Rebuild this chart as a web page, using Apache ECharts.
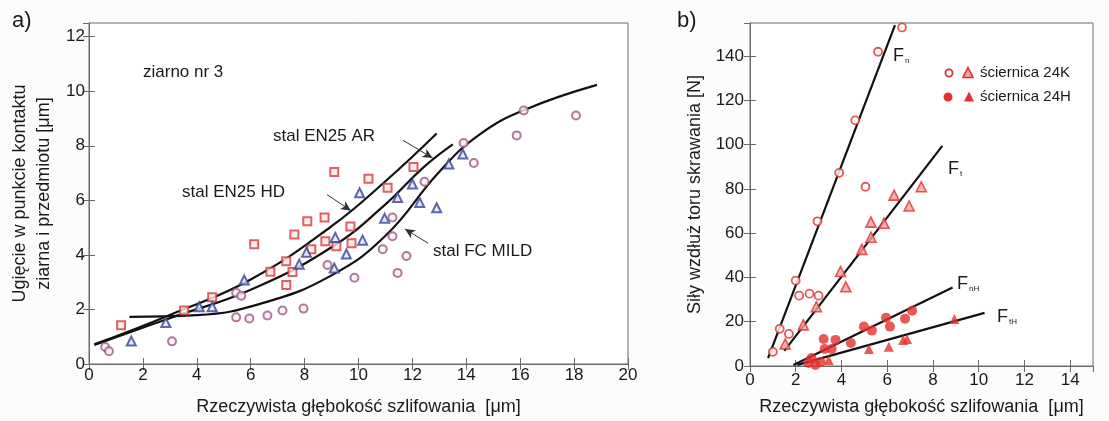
<!DOCTYPE html>
<html><head><meta charset="utf-8">
<script src="https://cdn.jsdelivr.net/npm/echarts@6/dist/echarts.min.js"></script>
<style>html,body{margin:0;padding:0;background:#fbfcfd}#c{width:1109px;height:421px}</style>
</head><body><div id="c"></div>
<script>
// ---- panel a) data ----
const en25hdSquares = [[1.19,1.42],[3.53,1.96],[4.57,2.45],[6.13,4.39],[6.73,3.38],[7.32,2.9],[7.32,3.77],[7.55,3.37],[7.62,4.75],[8.1,5.23],[8.25,4.21],[8.74,5.37],[8.77,4.5],[9.18,4.32],[9.7,5.04],[9.74,4.43],[9.1,7.04],[10.37,6.79],[11.08,6.46],[12.04,7.22]];
const en25arTriangles = [[1.57,0.84],[2.85,1.52],[4.09,2.1],[4.57,2.1],[5.76,3.08],[7.8,3.66],[8.07,4.1],[9.14,4.64],[9.1,3.52],[9.55,4.03],[10.15,4.54],[10.04,6.28],[10.97,5.34],[11.45,6.1],[12.0,6.6],[12.27,5.92],[12.9,5.73],[13.35,7.33],[13.87,7.7]];
const fcMildCircles = [[0.6,0.62],[0.74,0.47],[3.08,0.83],[5.46,1.71],[5.95,1.67],[6.62,1.78],[7.18,1.96],[7.96,2.03],[5.46,2.61],[5.65,2.5],[8.85,3.63],[9.85,3.16],[10.9,4.21],[11.26,4.68],[11.26,5.37],[11.78,3.96],[11.45,3.34],[12.45,6.68],[13.9,8.1],[14.28,7.37],[15.87,8.38],[16.13,9.29],[18.07,9.11]];
const upperCurve = [[0.2,0.72],[3,1.8],[6,3.1],[9,5.05],[11,6.7],[12.9,8.45]];
const middleCurve = [[0.2,0.7],[3,1.68],[6,2.72],[9,4.28],[11,5.85],[12.4,7.2],[13.5,8.05]];
const lowerCurve = [[1.5,1.73],[4,1.79],[6.5,2.25],[9,3.25],[11,4.7],[13,7.05],[14.5,8.42],[16.2,9.33],[18.85,10.23]];
const arrowAR = [[11.65,8.2],[12.75,7.55]];
const arrowHD = [[8.83,6.21],[9.72,5.62]];
const arrowFC = [[12.58,4.43],[11.72,4.95]];
const xTicksA = {min:0,max:20,interval:2};
const yTicksA = {min:0,max:12.5,interval:2};
// ---- panel b) data ----
const fn24K = [[1.0,6.4],[1.3,16.8],[1.7,14.5],[2.0,38.6],[2.15,31.8],[2.6,32.7],[3.0,31.8],[2.95,65.4],[3.9,87.3],[4.6,111],[5.05,81],[5.6,142],[6.65,153]];
const ft24K = [[1.54,10],[2.33,18.6],[2.9,26.8],[3.96,42.7],[4.19,35.8],[4.89,52.7],[5.29,58.2],[5.29,65],[5.86,64.5],[6.3,77.2],[6.96,72.3],[7.49,81]];
const fn24H = [[2.56,1.4],[2.69,3.6],[2.86,0.5],[3.08,1.8],[3.22,12.2],[3.26,7.7],[3.57,7.7],[3.74,11.8],[4.41,10.4],[4.98,17.8],[5.33,16],[5.95,21.8],[6.12,17.8],[6.78,21.4],[7.09,25]];
const ft24H = [[3.44,2.7],[5.2,7.7],[6.07,8.7],[6.7,11.8],[6.87,12.2],[8.94,21.2]];
const fnLine = [[0.79,3.6],[6.34,154]];
const ftLine = [[1.5,6.8],[8.41,99.5]];
const fnHLine = [[1.9,0.5],[8.86,35.5]];
const ftHLine = [[2.07,0.5],[10.26,24]];
const xTicksB = {min:0,max:15,interval:2};
const yTicksB = {min:0,max:155,interval:20};

const FONT = '"Liberation Sans", Arial, sans-serif';
const TXT = '#1a1a1a';
const AX = '#6a6a6a';

function mainAxis(extra, grid, t, show){
  return Object.assign({
    type:'value', gridIndex:grid, min:t.min, max:t.max, interval:t.interval,
    axisLine:{show:true, lineStyle:{color:AX, width:1}},
    axisTick:{show:true, inside:true, length:6, lineStyle:{color:AX}},
    splitLine:{show:false},
    axisLabel:{show:show, fontSize:17, color:TXT, fontFamily:FONT, showMaxLabel:false},
    nameTextStyle:{fontSize:18, color:TXT, fontFamily:FONT}
  }, extra);
}

const chart = echarts.init(document.getElementById('c'));
const arrowLine = (pts) => ({
  silent:true, symbol:['none','arrow'], symbolSize:[7,10], animation:false,
  lineStyle:{color:'#333', width:1, type:'solid'}, label:{show:false},
  data:[[{coord:pts[0]},{coord:pts[1]}]]
});

const lineSeries = (data, xi, yi, smooth) => ({
  type:'line', data, xAxisIndex:xi, yAxisIndex:yi, smooth: smooth ? 0.45 : false,
  showSymbol:false, symbol:'none', lineStyle:{color:'#111', width:2.2}, z:3, silent:true
});

const option = {
  animation:false,
  backgroundColor:'#fbfcfd',
  grid:[
    {left:89, right:481, top:23, bottom:55, show:true, backgroundColor:'#ffffff', borderColor:AX, borderWidth:1},
    {left:750, right:16, top:23, bottom:55, show:true, backgroundColor:'#ffffff', borderColor:AX, borderWidth:1}
  ],
  xAxis:[
    mainAxis({position:'bottom', name:'Rzeczywista głębokość szlifowania  [μm]', nameLocation:'middle', nameGap:34, axisLabel:{fontSize:17,color:TXT,fontFamily:FONT,margin:3,showMaxLabel:true}}, 0, xTicksA, true),
    mainAxis({position:'top'}, 0, xTicksA, false),
    mainAxis({position:'bottom', name:'Rzeczywista głębokość szlifowania  [μm]', nameLocation:'middle', nameGap:32, axisLabel:{fontSize:17,color:TXT,fontFamily:FONT,margin:6,showMaxLabel:false}}, 1, xTicksB, true),
    mainAxis({position:'top'}, 1, xTicksB, false)
  ],
  yAxis:[
    mainAxis({position:'left', name:'Ugięcie w punkcie kontaktu\nziarna i przedmiotu [μm]', nameLocation:'middle', nameGap:33, nameRotate:90,
      nameTextStyle:{fontSize:18,color:TXT,fontFamily:FONT,lineHeight:24}, axisLabel:{fontSize:17,color:TXT,fontFamily:FONT,margin:4,showMaxLabel:false}}, 0, yTicksA, true),
    mainAxis({position:'right'}, 0, yTicksA, false),
    mainAxis({position:'left', name:'Siły wzdłuż toru skrawania [N]', nameLocation:'middle', nameGap:46, nameRotate:90,
      axisLabel:{fontSize:17,color:TXT,fontFamily:FONT,margin:6,showMaxLabel:false}}, 1, yTicksB, true),
    mainAxis({position:'right'}, 1, yTicksB, false)
  ],
  series:[
    Object.assign(lineSeries(upperCurve,0,0,true), {markLine: arrowLine(arrowHD)}),
    Object.assign(lineSeries(middleCurve,0,0,true), {markLine: arrowLine(arrowAR)}),
    Object.assign(lineSeries(lowerCurve,0,0,true), {markLine: arrowLine(arrowFC)}),
    {type:'scatter', name:'stal EN25 HD', data:en25hdSquares, xAxisIndex:0, yAxisIndex:0, symbol:'rect', symbolSize:8,
      itemStyle:{color:'#fdeeee', borderColor:'#d8393b', borderWidth:2}, z:4},
    {type:'scatter', name:'stal EN25 AR', data:en25arTriangles, xAxisIndex:0, yAxisIndex:0, symbol:'triangle', symbolSize:9,
      itemStyle:{color:'#e2e6f6', borderColor:'#33449a', borderWidth:2}, z:4},
    {type:'scatter', name:'stal FC MILD', data:fcMildCircles, xAxisIndex:0, yAxisIndex:0, symbol:'circle', symbolSize:8,
      itemStyle:{color:'#f8f0f6', borderColor:'#9a5a82', borderWidth:2}, z:4},
    lineSeries(fnLine,2,2,false),
    lineSeries(ftLine,2,2,false),
    lineSeries(fnHLine,2,2,false),
    lineSeries(ftHLine,2,2,false),
    {type:'scatter', name:'Fn 24K', data:fn24K, xAxisIndex:2, yAxisIndex:2, symbol:'circle', symbolSize:8,
      itemStyle:{color:'#ffffff', borderColor:'#e0302c', borderWidth:1.8}, z:4},
    {type:'scatter', name:'Ft 24K', data:ft24K, xAxisIndex:2, yAxisIndex:2, symbol:'triangle', symbolSize:10,
      itemStyle:{color:'#f6a3a0', borderColor:'#e0302c', borderWidth:1.6}, z:4},
    {type:'scatter', name:'Fn 24H', data:fn24H, xAxisIndex:2, yAxisIndex:2, symbol:'circle', symbolSize:10,
      itemStyle:{color:'#e4302c'}, z:4},
    {type:'scatter', name:'Ft 24H', data:ft24H, xAxisIndex:2, yAxisIndex:2, symbol:'triangle', symbolSize:10,
      itemStyle:{color:'#e4302c'}, z:4}
  ],
  graphic:[
    {type:'text', left:12, top:10, style:{text:'a)', fontSize:22, fill:TXT, fontFamily:FONT}},
    {type:'text', left:677, top:10, style:{text:'b)', fontSize:22, fill:TXT, fontFamily:FONT}},
    {type:'text', left:143, top:64, style:{text:'ziarno nr 3', fontSize:17, fill:TXT, fontFamily:FONT}},
    {type:'text', left:273, top:128, style:{text:'stal EN25 AR', fontSize:17, fill:TXT, fontFamily:FONT}},
    {type:'text', left:182, top:184, style:{text:'stal EN25 HD', fontSize:17, fill:TXT, fontFamily:FONT}},
    {type:'text', left:433, top:243, style:{text:'stal FC MILD', fontSize:17, fill:TXT, fontFamily:FONT}},
    {type:'text', x:893, y:47, style:{text:'{f|F}{s|n}', fill:TXT, fontFamily:FONT, rich:{f:{fontSize:18,fill:TXT,fontFamily:FONT}, s:{fontSize:8,fill:TXT,fontFamily:FONT,padding:[10,0,0,1]}}}},
    {type:'text', x:948, y:160, style:{text:'{f|F}{s|t}', fill:TXT, fontFamily:FONT, rich:{f:{fontSize:18,fill:TXT,fontFamily:FONT}, s:{fontSize:8,fill:TXT,fontFamily:FONT,padding:[10,0,0,1]}}}},
    {type:'text', x:957, y:275, style:{text:'{f|F}{s|nH}', fill:TXT, fontFamily:FONT, rich:{f:{fontSize:18,fill:TXT,fontFamily:FONT}, s:{fontSize:8,fill:TXT,fontFamily:FONT,padding:[10,0,0,1]}}}},
    {type:'text', x:997, y:308, style:{text:'{f|F}{s|tH}', fill:TXT, fontFamily:FONT, rich:{f:{fontSize:18,fill:TXT,fontFamily:FONT}, s:{fontSize:8,fill:TXT,fontFamily:FONT,padding:[10,0,0,1]}}}},
    // legend
    {type:'circle', shape:{cx:949, cy:73, r:3.6}, style:{fill:'#fff', stroke:'#e0302c', lineWidth:1.8}},
    {type:'polygon', shape:{points:[[968,67.5],[973,77.5],[963,77.5]]}, style:{fill:'#f6a3a0', stroke:'#e0302c', lineWidth:1.6}},
    {type:'text', left:980, top:65, style:{text:'ściernica 24K', fontSize:15, fill:TXT, fontFamily:FONT}},
    {type:'circle', shape:{cx:948, cy:97, r:4.5}, style:{fill:'#e4302c'}},
    {type:'polygon', shape:{points:[[969,91.5],[974,101.5],[964,101.5]]}, style:{fill:'#e4302c'}},
    {type:'text', left:980, top:89, style:{text:'ściernica 24H', fontSize:15, fill:TXT, fontFamily:FONT}}
  ]
};
chart.setOption(option);
</script></body></html>
